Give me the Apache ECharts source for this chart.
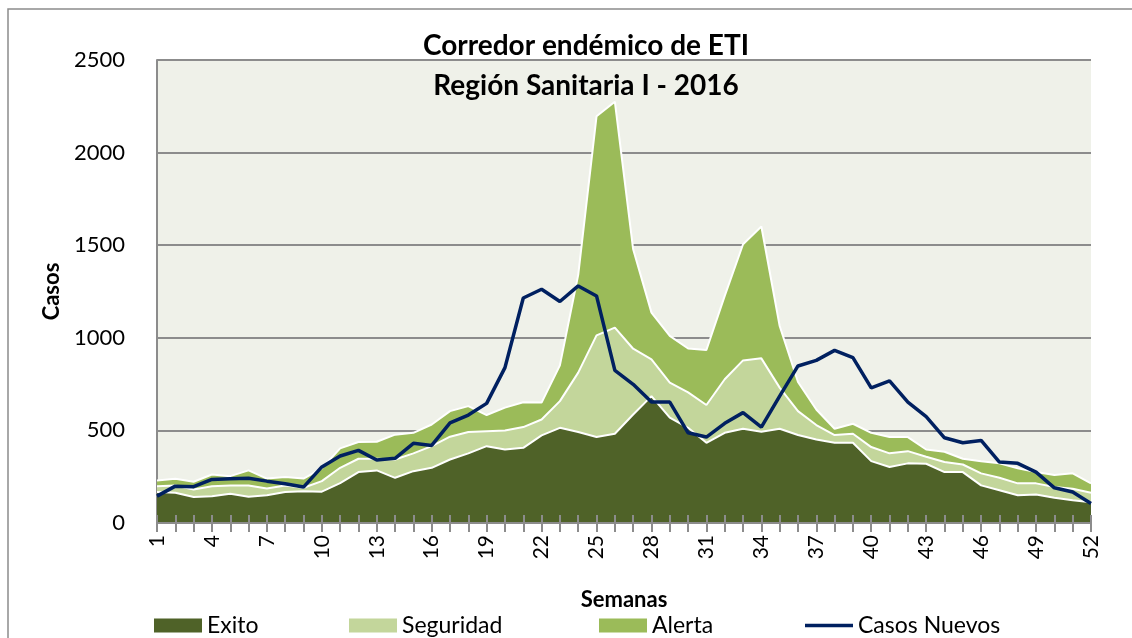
<!DOCTYPE html>
<html>
<head>
    <meta charset="UTF-8">
    <style>
        html, body { margin: 0; padding: 0; background: #fff; }
        #chart { width: 1132px; height: 638px; }
    </style>
</head>
<body>
<div id="chart"></div>
<script src="https://cdn.jsdelivr.net/npm/echarts@6.0.0/dist/echarts.min.js"></script>
<script>
    // semanas epidemiologicas
    var semanas = [];
    for (var i = 1; i <= 52; i++) { semanas.push(String(i)); }

    var exito = [167, 163, 140, 145, 158, 142, 150, 167, 172, 169, 215, 275, 284, 244, 280, 298, 343, 376, 415, 397,
        406, 473, 514, 491, 464, 482, 586, 685, 569, 514, 433, 487, 509, 493, 509, 475, 451, 433, 433, 334,
        302, 322, 320, 275, 275, 203, 177, 150, 154, 136, 123, 112];
    var seguridad = [199, 203, 181, 199, 203, 203, 186, 203, 190, 226, 298, 347, 347, 343, 376, 415, 466, 491, 496, 500,
        518, 559, 658, 812, 1013, 1055, 941, 884, 758, 705, 637, 776, 878, 889, 731, 604, 529, 475, 482, 410,
        376, 388, 358, 329, 316, 268, 244, 214, 214, 194, 185, 163];
    var alerta = [230, 239, 223, 262, 253, 284, 240, 248, 240, 295, 403, 437, 439, 477, 487, 532, 604, 631, 583, 623,
        652, 650, 851, 1340, 2196, 2275, 1478, 1136, 1010, 942, 934, 1226, 1505, 1601, 1064, 761, 613, 509, 536, 487,
        464, 464, 397, 385, 347, 334, 322, 295, 275, 259, 268, 214];
    var casosNuevos = [145, 199, 196, 235, 239, 242, 226, 212, 194, 303, 362, 392, 340, 349, 430, 419, 541, 583, 646, 839,
        1215, 1262, 1196, 1280, 1226, 824, 749, 653, 653, 487, 464, 538, 596, 518, 685, 848, 878, 932, 893, 730,
        767, 653, 574, 460, 433, 446, 329, 322, 275, 190, 167, 105];

    var fuente = 'Lato, "Open Sans", sans-serif';

    function area(nombre, datos, color, z) {
        return {
            name: nombre,
            type: 'line',
            data: datos,
            z: z,
            symbol: 'none',
            itemStyle: { color: color },
            lineStyle: { color: '#ffffff', width: 2 },
            areaStyle: { color: color, opacity: 1 }
        };
    }

    // una leyenda por item, para ubicarlas como en el original
    function leyenda(nombre, izq, icono) {
        return {
            left: izq,
            top: 614,
            padding: 0,
            itemWidth: 48,
            itemHeight: 14,
            itemGap: 6,
            symbolKeepAspect: true,
            itemStyle: { borderWidth: 0 },
            textStyle: { fontSize: 23, color: '#000', fontFamily: fuente, padding: [0, 0, 0, 0] },
            data: [{ name: nombre, icon: icono }]
        };
    }

    var chart = echarts.init(document.getElementById('chart'));
    chart.setOption({
        animation: false,
        textStyle: { fontFamily: fuente },
        title: {
            text: 'Corredor endémico de ETI\nRegión Sanitaria I - 2016',
            left: 581,
            top: 21,
            textAlign: 'center',
            textStyle: { fontSize: 28, fontWeight: 'bold', color: '#000', lineHeight: 40, fontFamily: fuente }
        },
        graphic: [{
            type: 'rect',
            shape: { x: 8, y: 9, width: 1140, height: 640 },
            style: { fill: 'none', stroke: '#8c8c8c', lineWidth: 1.5 },
            silent: true
        }],
        legend: [
            leyenda('Exito', 154, 'rect'),
            leyenda('Seguridad', 349, 'rect'),
            leyenda('Alerta', 599, 'rect'),
            leyenda('Casos Nuevos', 805, 'path://M0,0 L100,0 L100,7 L0,7 Z')
        ],
        grid: {
            left: 157, top: 60, right: 41, bottom: 115,
            show: true, backgroundColor: '#eff1e9', borderWidth: 0
        },
        xAxis: [{
            type: 'category',
            data: semanas,
            boundaryGap: false,
            name: 'Semanas',
            nameLocation: 'middle',
            nameGap: 66,
            nameTextStyle: { fontSize: 22, fontWeight: 'bold', color: '#000', fontFamily: fuente },
            axisLine: { lineStyle: { color: '#8c8c8c', width: 2 } },
            axisTick: { interval: 0, length: 9, lineStyle: { color: '#8c8c8c', width: 2 } },
            axisLabel: { interval: 2, rotate: 90, fontSize: 21, color: '#000', margin: 12, fontFamily: fuente },
            z: 10
        }, {
            type: 'category',
            data: semanas,
            boundaryGap: false,
            position: 'bottom',
            axisLine: { show: false },
            axisTick: { inside: true, interval: 0, length: 8, lineStyle: { color: '#8c8c8c', width: 2 } },
            axisLabel: { show: false },
            z: 10
        }],
        yAxis: {
            type: 'value',
            min: 0,
            max: 2500,
            interval: 500,
            name: 'Casos',
            nameLocation: 'middle',
            nameGap: 84,
            nameTextStyle: { fontSize: 22, fontWeight: 'bold', color: '#000', fontFamily: fuente },
            axisLine: { show: true, lineStyle: { color: '#8c8c8c', width: 2 } },
            axisTick: { show: false },
            axisLabel: {
                fontSize: 22, color: '#000', margin: 32, fontFamily: fuente,
                formatter: function (v) { return String(v); }
            },
            splitLine: { lineStyle: { color: '#8c8c8c', width: 2 } }
        },
        series: [
            area('Exito', exito, '#4f6228', 3),
            area('Seguridad', seguridad, '#c3d69b', 2),
            area('Alerta', alerta, '#9bbb59', 1),
            {
                name: 'Casos Nuevos',
                type: 'line',
                data: casosNuevos,
                z: 5,
                symbol: 'none',
                itemStyle: { color: '#002060' },
                lineStyle: { color: '#002060', width: 3.5 }
            }
        ]
    });
</script>
</body>
</html>
